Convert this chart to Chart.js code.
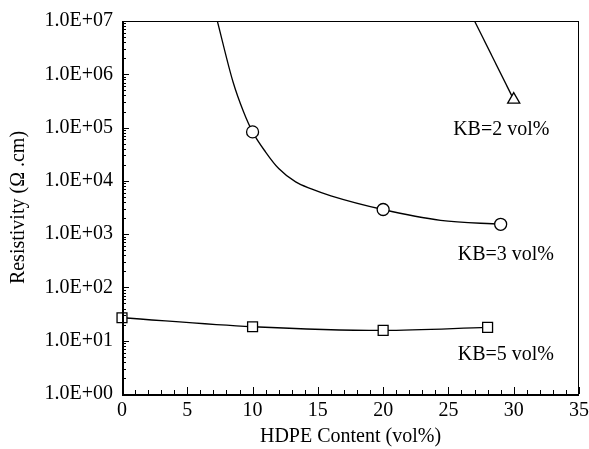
<!DOCTYPE html>
<html>
<head>
<meta charset="utf-8">
<script src="https://cdn.jsdelivr.net/npm/chart.js@4.4.1/dist/chart.umd.min.js"></script>
<style>
  html, body { margin: 0; padding: 0; background: #fff; }
  canvas { display: block; }
</style>
</head>
<body>
<canvas id="c" width="589" height="449"></canvas>
<script>
// markers
const kb5X = [0, 10, 20, 28];
const kb5Y = [27, 18.3, 15.6, 17.8];
const kb3X = [10, 20, 29];
const kb3Y = [83000, 2900, 1530];
const kb2X = [30];
const kb2Y = [335000];

// the fitted lines (they run off the top)
const kb3LineX = [7.3, 8.5, 9.3, 10, 11, 12, 13.3, 14.5, 16, 20, 24.4, 29];
const kb3LineY = [1e7, 724000, 200000, 83000, 34700, 17000, 9550, 7080, 5250, 2900, 1820, 1530];
const kb2LineX = [27, 30];
const kb2LineY = [1e7, 335000];

// curve labels
const seriesNames = ['KB=2 vol%', 'KB=3 vol%', 'KB=5 vol%'];
const nameX = [29.05, 29.4, 29.4];
const nameY = [90000, 405, 5.4];

// axes
const xTicks = [0, 5, 10, 15, 20, 25, 30, 35];
const yTicks = [1, 10, 100, 1e3, 1e4, 1e5, 1e6, 1e7];
const yTickLabels = ['1.0E+00', '1.0E+01', '1.0E+02', '1.0E+03', '1.0E+04', '1.0E+05', '1.0E+06', '1.0E+07'];

const FONT = 'Liberation Serif, Times New Roman, serif';
const FS = 20;
const pts = (xs, ys) => xs.map((x, i) => ({ x, y: ys[i] }));

// inward ticks + frame, like the original plot
const framePlugin = {
  id: 'frame',
  afterDraw(chart) {
    const { ctx, chartArea: a, scales: { x, y } } = chart;
    ctx.save();
    ctx.strokeStyle = '#000';
    ctx.lineWidth = 1;
    ctx.beginPath();
    // minor x ticks every 1, major every 5
    for (let v = 0; v <= 35; v++) {
      const px = Math.round(x.getPixelForValue(v)) + 0.5;
      const len = v % 5 === 0 ? 7 : 4;
      ctx.moveTo(px, a.bottom); ctx.lineTo(px, a.bottom - len);
    }
    // log ticks on y
    for (let e = 0; e < 7; e++) {
      for (let k = 1; k <= 9; k++) {
        const py = Math.round(y.getPixelForValue(k * Math.pow(10, e))) + 0.5;
        const len = k === 1 ? 7 : 4;
        ctx.moveTo(a.left, py); ctx.lineTo(a.left + len, py);
      }
    }
    ctx.stroke();
    ctx.strokeRect(a.left + 0.5, a.top + 0.5, a.right - a.left - 1, a.bottom - a.top);
    ctx.lineWidth = 2;
    ctx.beginPath();
    ctx.moveTo(a.left + 1, a.top); ctx.lineTo(a.left + 1, a.bottom + 1);
    ctx.lineTo(a.right, a.bottom + 1);
    ctx.stroke();

    ctx.fillStyle = '#000';
    ctx.font = FS + 'px ' + FONT;
    ctx.textAlign = 'center';
    ctx.textBaseline = 'middle';
    seriesNames.forEach((t, i) => {
      ctx.fillText(t, x.getPixelForValue(nameX[i]), y.getPixelForValue(nameY[i]));
    });
    ctx.restore();
  }
};

const markerBase = { showLine: false, borderColor: '#000', backgroundColor: '#fff', borderWidth: 1.3, clip: false };
const lineBase = { borderColor: '#000', borderWidth: 1.3, pointRadius: 0, fill: false, cubicInterpolationMode: 'monotone' };

new Chart(document.getElementById('c'), {
  type: 'line',
  data: {
    datasets: [
      { ...markerBase, data: pts(kb2X, kb2Y), pointStyle: 'triangle', pointRadius: 7 },
      { ...markerBase, data: pts(kb3X, kb3Y), pointStyle: 'circle', pointRadius: 6 },
      { ...markerBase, data: pts(kb5X, kb5Y), pointStyle: 'rect', pointRadius: 7, showLine: true, cubicInterpolationMode: 'monotone' },
      { ...lineBase, data: pts(kb3LineX, kb3LineY) },
      { ...lineBase, data: pts(kb2LineX, kb2LineY), tension: 0, cubicInterpolationMode: 'default' }
    ]
  },
  options: {
    responsive: false,
    animation: false,
    events: [],
    layout: { padding: { top: 21, right: 10, left: 0, bottom: 0 } },
    plugins: { legend: { display: false }, tooltip: { enabled: false } },
    scales: {
      x: {
        type: 'linear', min: 0, max: 35,
        grid: { display: false, drawTicks: false },
        border: { display: false },
        afterBuildTicks: s => { s.ticks = xTicks.map(v => ({ value: v })); },
        afterFit: s => { s.height = 55; s.paddingLeft = 0; s.paddingRight = 0; },
        ticks: { color: '#000', padding: 5, font: { family: FONT, size: FS }, callback: v => String(v) },
        title: { display: true, text: 'HDPE Content (vol%)', color: '#000', font: { family: FONT, size: FS }, padding: { top: 0, bottom: 0 } }
      },
      y: {
        type: 'logarithmic', min: 1, max: 1e7,
        grid: { display: false, drawTicks: false },
        border: { display: false },
        afterBuildTicks: s => { s.ticks = yTicks.map(v => ({ value: v })); },
        afterFit: s => { s.width = 122; s.paddingTop = 0; s.paddingBottom = 0; },
        ticks: {
          color: '#000', padding: 9, autoSkip: false, font: { family: FONT, size: FS },
          callback: v => yTickLabels[yTicks.indexOf(v)] || ''
        },
        title: { display: true, text: 'Resistivity (\u03a9 .cm)', color: '#000', font: { family: FONT, size: FS }, padding: { top: 7, bottom: 0 } }
      }
    }
  },
  plugins: [framePlugin]
});
</script>
</body>
</html>
